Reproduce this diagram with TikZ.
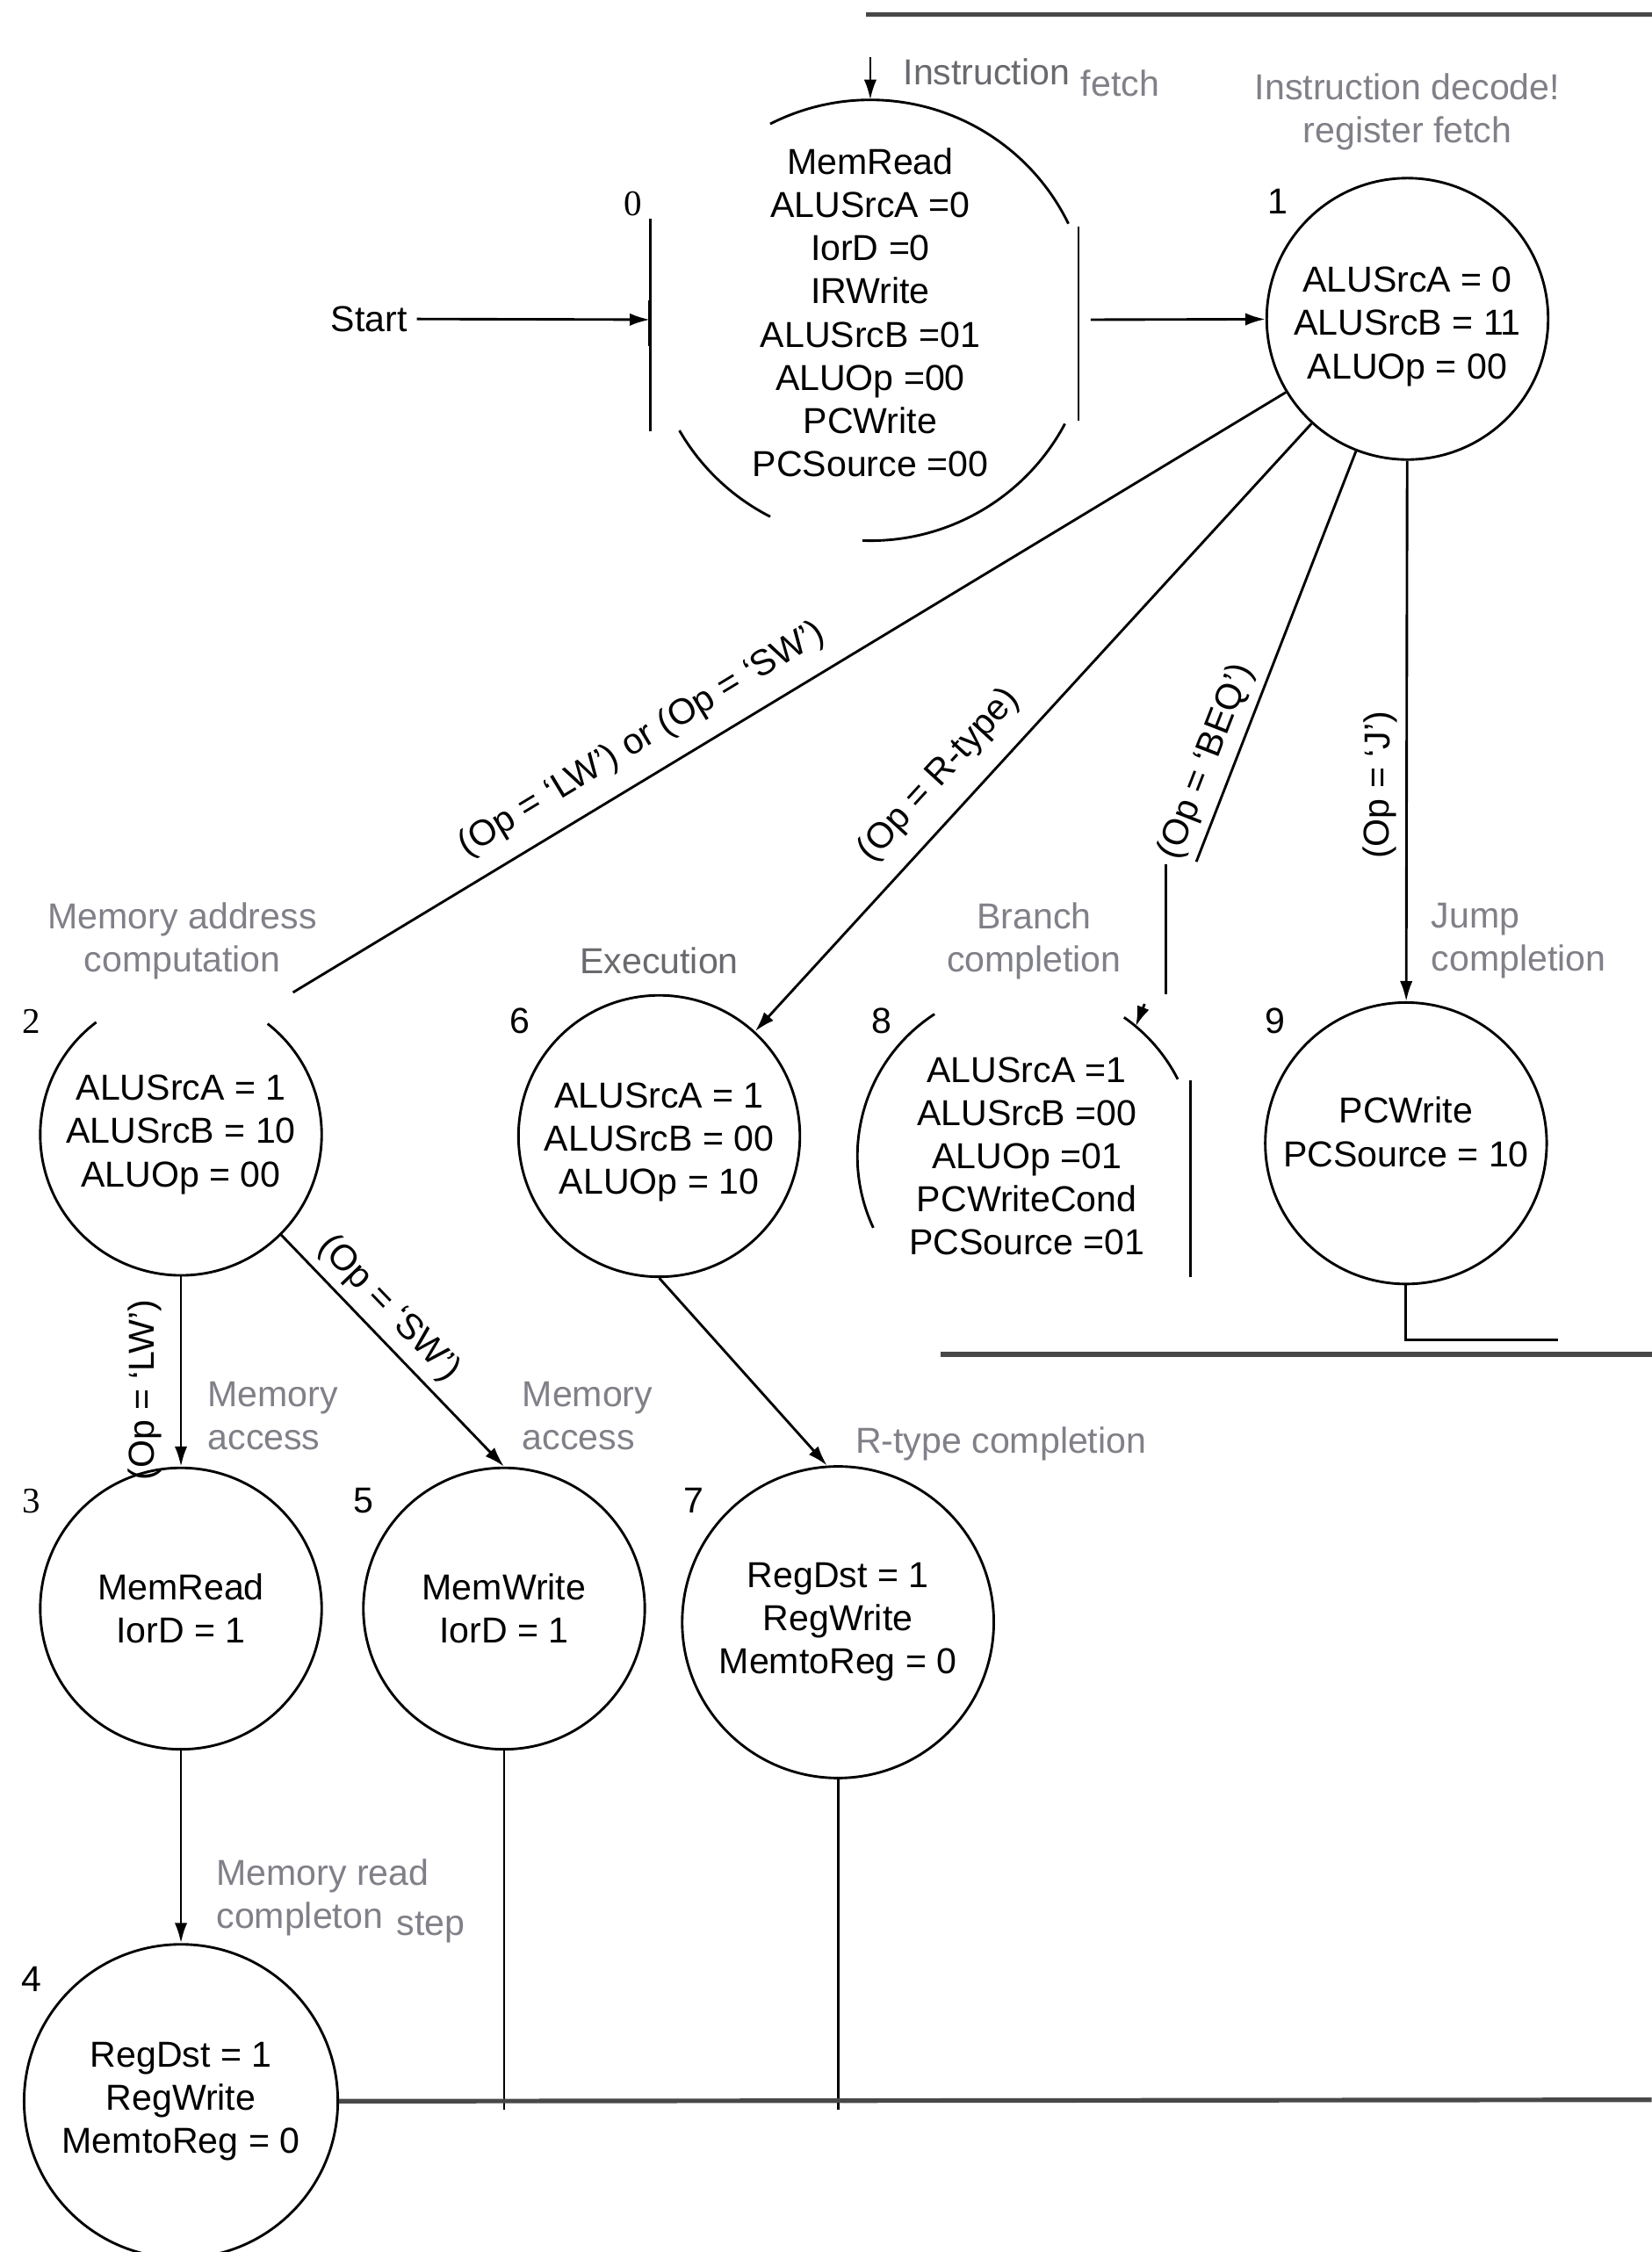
\documentclass[tikz,border=0pt]{standalone}
\usepackage{fontspec}
\setmainfont{Liberation Sans}
\newfontfamily\numserif{Liberation Serif}
\usetikzlibrary{arrows.meta,positioning}
\definecolor{labgray}{RGB}{128,128,136}
\definecolor{darkgray}{RGB}{105,105,110}
\definecolor{retgray}{RGB}{72,72,72}

\begin{document}
\begin{tikzpicture}[x=0.02cm,y=-0.02cm,font=\fontsize{14.3}{17.1}\selectfont,line width=1pt,
  state/.style={circle,draw,inner sep=0pt,minimum size=3.92cm,align=center},
  patched/.style={circle,inner sep=0pt,outer sep=0pt,align=center},
  stepnote/.style={text=labgray,align=center},
  cond/.style={sloped,above},
  arr/.style={-{Latex[length=8pt,width=5pt]}},
  rarr/.style={{Latex[length=8pt,width=5pt]}-},
  retline/.style={draw=retgray,line width=1.8pt}]
\useasboundingbox[fill=white] (0,0) rectangle (1150,1568);

% states
\node[patched,minimum size=6.14cm,text depth=0.22cm] (s0) at (606,223)
 {MemRead\\ALUSrcA =0\\IorD =0\\IRWrite\\ALUSrcB =01\\ALUOp =00\\PCWrite\\PCSource =00};
\node[state,text height=1.77cm] (s1) at (980,222) {ALUSrcA = 0\\ALUSrcB = 11\\ALUOp = 00};
\node[patched,minimum size=3.92cm] (s2) at (126,790) {ALUSrcA = 1\\ALUSrcB = 10\\ALUOp = 00};
\node[state,text height=1.73cm] (s6) at (459,791) {ALUSrcA = 1\\ALUSrcB = 00\\ALUOp = 10};
\node[patched,minimum size=4.72cm] (s8) at (715,805)
 {ALUSrcA =1\\ALUSrcB =00\\ALUOp =01\\PCWriteCond\\PCSource =01};
\node[state,text depth=0.32cm] (s9) at (979,796) {PCWrite\\PCSource = 10};
\node[state] (s3) at (126,1120) {MemRead\\IorD = 1};
\node[state] (s5) at (351,1120) {MemWrite\\IorD = 1};
\node[state,minimum size=4.34cm] (s7) at (583.5,1129.5) {RegDst = 1\\RegWrite\\MemtoReg = 0};
\node[state,minimum size=4.37cm] (s4) at (126,1463) {RegDst = 1\\RegWrite\\MemtoReg = 0};

% cut circles
\draw (s0.26) arc[start angle=26,end angle=117,radius=3.07cm];
\draw (s0.210) arc[start angle=210,end angle=243,radius=3.07cm];
\draw (s0.-92) arc[start angle=-92,end angle=-28,radius=3.07cm];
\draw (453,152) -- (453,300);
\draw (751,158) -- (751,293);
\draw (452,209) -- (452,241);
\draw (s2.127) arc[start angle=127,end angle=412,radius=1.96cm];
\draw (s8.123) arc[start angle=123,end angle=205,radius=2.36cm];
\draw (s8.27) arc[start angle=27,end angle=55,radius=2.36cm];
\draw (829,752) -- (829,889);

% state numbers
\node (n0) at (441,142) {\numserif 0};
\node (n1) at (890,140) {1};
\node (n2) at (22,711) {\numserif 2};
\node (n3) at (22,1045) {\numserif 3};
\node (n4) at (22,1378) {4};
\node (n5) at (253,1045) {5};
\node (n6) at (362,711) {6};
\node (n7) at (483,1045) {7};
\node (n8) at (614,711) {8};
\node (n9) at (888,711) {9};

% step names
\node[stepnote,text=darkgray] (l0a) at (687,50) {Instruction};
\node[stepnote] (l0b) at (780,58) {fetch};
\node[stepnote] (l1) at (980,78) {Instruction decode!\\register fetch};
\node[stepnote] (l2) at (127,655) {Memory address\\computation};
\node[stepnote,text=darkgray] (l6) at (459,669) {Execution};
\node[stepnote] (l8) at (720,655) {Branch\\completion};
\node[stepnote,align=left,anchor=west] (l9) at (990,655) {Jump\\completion};
\node[stepnote,align=left,anchor=west] (l3) at (138,986) {Memory\\access};
\node[stepnote,align=left,anchor=west] (l5) at (357,986) {Memory\\access};
\node[stepnote] (l7) at (697,1005) {R-type completion};
\node[stepnote,align=left,anchor=west] (l4) at (144,1321) {Memory read\\completon};
\node[stepnote] (l4b) at (300,1342) {step};

% transitions
\node (start) at (257,222) {Start};
\coordinate (in0) at (606,40);
\coordinate (c2) at (204,691);
\coordinate (c8) at (833,600);
\coordinate (b8) at (797,699);
\draw[arr] (start) -- (s0);
\draw[arr] (in0) -- (s0.north);
\draw[arr] (s0) -- (s1);
\draw (c2) -- node[cond,pos=0.37,inner sep=7pt] {(Op = ‘LW’) or (Op = ‘SW’)} (s1);
\draw[rarr] (s6) -- node[cond,pos=0.38,inner sep=7.5pt] {(Op = R-type)} (s1);
\draw (c8) -- node[cond,pos=0.22] {(Op = ‘BEQ’)} (s1);
\draw (812,602) -- (812,692);
\draw[arr] (b8) -- (s8.50);
\draw[rarr] (s9) -- node[cond,pos=0.4] {(Op = ‘J’)} (s1);
\draw[rarr] (s3) -- node[cond,pos=0.4,inner sep=7pt] {(Op = ‘LW’)} (s2);
\draw[arr] (s2.-45) -- node[cond,pos=0.4] {(Op = ‘SW’)} (s5.north);
\draw[arr] (s6.south) -- (s7.94);
\draw[arr] (s3) -- (s4);

% back to fetch
\draw (s5.south) -- ++(0,250);
\draw (s7.south) -- ++(0,230);
\draw (s9.south) -- ++(0,38) -- ++(106,0);
\draw[retline] (s4.east) -- (1150,1462);
\draw[retline] (655,943) -- (1150,943);
\draw[retline] (603,10) -- (1150,10);
\end{tikzpicture}
\end{document}
